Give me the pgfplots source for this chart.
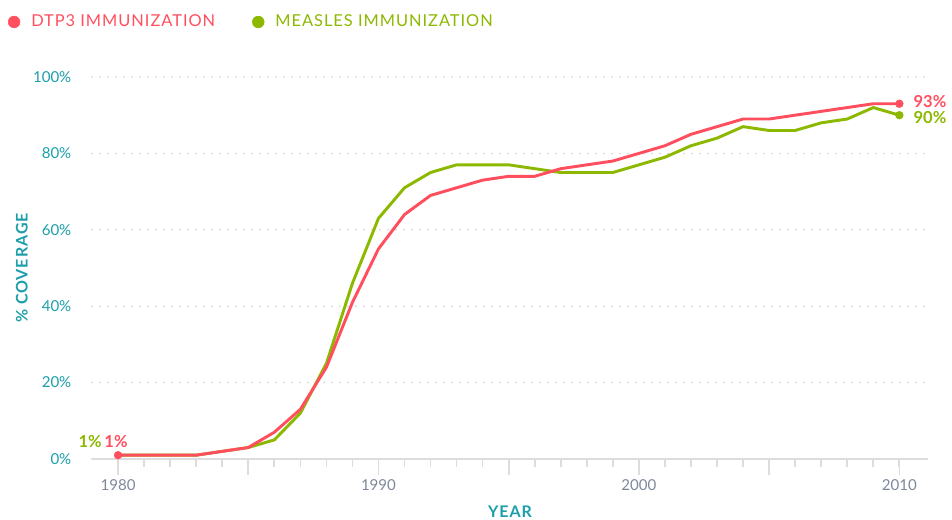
\documentclass[border=0pt]{standalone}
\usepackage{fontspec}
\setmainfont{Lato}
\newfontfamily\capsfont[LetterSpace=6]{Lato}
\usepackage{pgfplots}
\pgfplotsset{compat=1.18}
\definecolor{dtp}{HTML}{FF4F5E}
\definecolor{mea}{HTML}{8CB800}
\definecolor{tealc}{HTML}{1C9EAB}
\definecolor{xgray}{HTML}{7D889B}
\definecolor{axgray}{HTML}{DDDDDD}
\definecolor{gridgray}{HTML}{D0D0D0}
\begin{document}
\begin{tikzpicture}
\useasboundingbox (0,0) rectangle (714pt,390pt);
\begin{axis}[
  at={(69pt,45.75pt)}, anchor=south west,
  scale only axis, width=627pt, height=286.5pt,
  xmin=1979, xmax=2011.1, ymin=0, ymax=100,
  axis x line*=bottom, axis y line*=left,
  y axis line style={draw=none},
  x axis line style={draw=axgray, line width=1.2pt},
  xtick={1980,1985,...,2010},
  xticklabels={1980,,1990,,2000,,2010},
  minor xtick={1980,...,2010},
  tick align=outside,
  major tick length=12pt, minor tick length=6pt,
  tick style={draw=axgray, line width=1.2pt},
  ytick style={draw=none},
  ytick={0,20,...,100},
  yticklabel={\pgfmathprintnumber{\tick}\%},
  /pgf/number format/assume math mode=true,
  /pgf/number format/set thousands separator={},
  xticklabel style={font=\fontsize{11.3}{13}\selectfont, text=xgray},
  yticklabel style={font=\fontsize{11.3}{13}\selectfont, text=tealc},
  ymajorgrids,
  major grid style={draw=gridgray, line width=1.3pt, dash pattern=on 0pt off 6pt, line cap=round},
  xlabel={YEAR}, ylabel={\% COVERAGE},
  xlabel style={at={(axis description cs:0.5,-0.139)}, anchor=center, font=\capsfont\bfseries\fontsize{12}{14}\selectfont, text=tealc},
  ylabel style={at={(axis description cs:-0.084,0.5)}, anchor=center, font=\capsfont\bfseries\fontsize{12}{14}\selectfont, text=tealc},
  legend image code/.code={\fill[#1] (0pt,0pt) circle (4.4pt);},
  legend style={at={(axis description cs:-0.1005,1.144)}, anchor=west, draw=none, fill=none,
    inner sep=0pt, outer sep=0pt, legend columns=2,
    nodes={inner sep=0pt, outer sep=0pt},
    font=\capsfont\fontsize{12.3}{14}\selectfont,
    /tikz/every odd column/.append style={column sep=8.25pt},
    /tikz/every even column/.append style={column sep=27.75pt}},
  clip=false,
]
\addlegendimage{dtp, fill=dtp}
\addlegendentry{\textcolor{dtp}{DTP3 IMMUNIZATION}}
\addlegendimage{mea, fill=mea}
\addlegendentry{\textcolor{mea}{MEASLES IMMUNIZATION}}

\addplot[mea, line width=2.2pt, line join=round, forget plot] coordinates {
(1980,1) (1981,1) (1982,1) (1983,1) (1984,2) (1985,3) (1986,5) (1987,12) (1988,25) (1989,46)
(1990,63) (1991,71) (1992,75) (1993,77) (1994,77) (1995,77) (1996,76) (1997,75) (1998,75) (1999,75)
(2000,77) (2001,79) (2002,82) (2003,84) (2004,87) (2005,86) (2006,86) (2007,88) (2008,89) (2009,92) (2010,90)};
\addplot[dtp, line width=2.2pt, line join=round, forget plot] coordinates {
(1980,1) (1981,1) (1982,1) (1983,1) (1984,2) (1985,3) (1986,7) (1987,13) (1988,24) (1989,41)
(1990,55) (1991,64) (1992,69) (1993,71) (1994,73) (1995,74) (1996,74) (1997,76) (1998,77) (1999,78)
(2000,80) (2001,82) (2002,85) (2003,87) (2004,89) (2005,89) (2006,90) (2007,91) (2008,92) (2009,93) (2010,93)};
\addplot[only marks, mark=*, mark size=2.9pt, mea, forget plot] coordinates {(2010,90)};
\addplot[only marks, mark=*, mark size=2.9pt, dtp, forget plot] coordinates {(1980,1) (2010,93)};

\node[anchor=west, text=dtp, font=\bfseries\fontsize{12.4}{14}\selectfont, inner sep=0pt, xshift=10.5pt, yshift=1.5pt] at (axis cs:2010,93) {93\%};
\node[anchor=west, text=mea, font=\bfseries\fontsize{12.4}{14}\selectfont, inner sep=0pt, xshift=10.5pt, yshift=-1.5pt] at (axis cs:2010,90) {90\%};
\node[anchor=south, text=dtp, font=\bfseries\fontsize{12.4}{14}\selectfont, inner sep=0pt, xshift=-1.5pt, yshift=5.5pt] at (axis cs:1980,1) {1\%};
\node[anchor=south east, text=mea, font=\bfseries\fontsize{12.4}{14}\selectfont, inner sep=0pt, xshift=-12pt, yshift=5.5pt] at (axis cs:1980,1) {1\%};
\end{axis}
\end{tikzpicture}
\end{document}
